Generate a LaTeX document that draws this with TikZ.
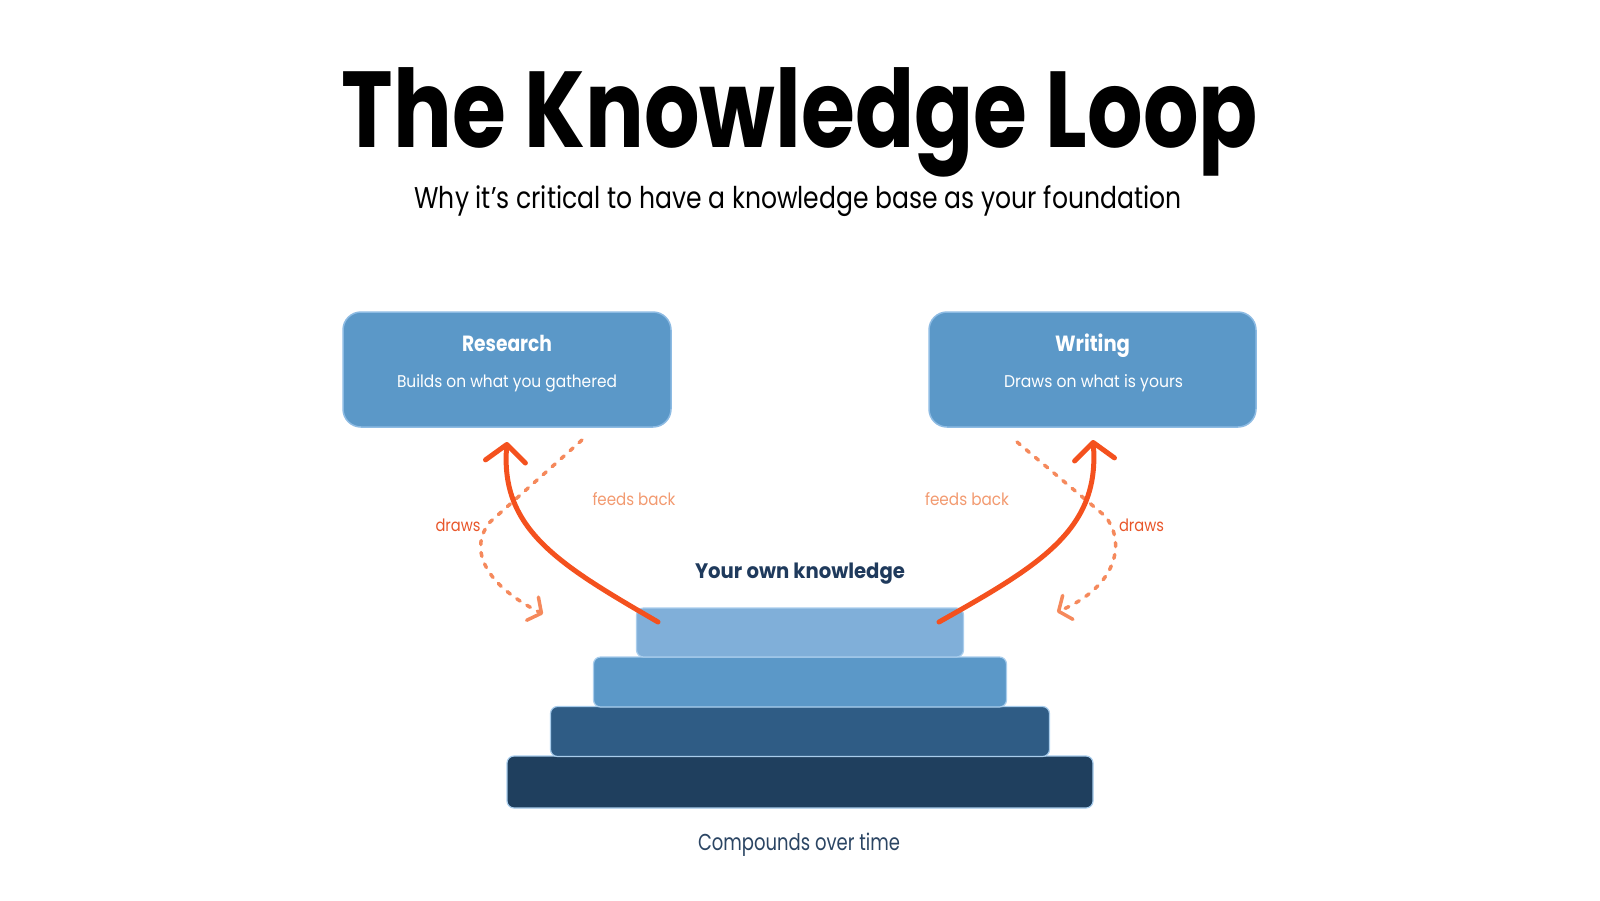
\documentclass[tikz,border=0pt]{standalone}
\usepackage{fontspec}
\setmainfont{Poppins}
\usepackage{graphicx}
\usetikzlibrary{arrows.meta}
\definecolor{boxblue}{HTML}{5B98C8}
\definecolor{boxedge}{HTML}{8DBBE3}
\definecolor{layerA}{HTML}{80AFD9}
\definecolor{layerB}{HTML}{5B98C8}
\definecolor{layerC}{HTML}{2F5C85}
\definecolor{layerD}{HTML}{1F3F5E}
\definecolor{layeredge}{HTML}{A9CDEC}
\definecolor{solidorange}{HTML}{F4511E}
\definecolor{dashorange}{HTML}{F5895C}
\definecolor{drawsorange}{HTML}{E8562A}
\definecolor{feedsorange}{HTML}{F29A70}
\definecolor{navy}{HTML}{1F3A5C}
\definecolor{navysoft}{HTML}{2B4563}
\newcommand{\fitw}[2]{\resizebox{#1}{\height}{#2}}
\tikzset{
  card/.style={draw=boxedge, line width=1.5pt, fill=boxblue, rounded corners=18pt, inner sep=0pt},
  layer/.style={draw=layeredge, line width=1.2pt, rounded corners=7pt, inner sep=0pt},
  txt/.style={inner sep=0pt, anchor=base},
  solidarrow/.style={draw=solidorange, line width=5pt, line cap=round,
    -{Straight Barb[length=17pt, width=40pt, round]}},
  dasharrow/.style={draw=dashorange, line width=3.5pt, line cap=round,
    dash pattern=on 4pt off 8pt,
    -{Straight Barb[length=10pt, width=26pt, round]}}
}
\begin{document}
\begin{tikzpicture}[x=1pt, y=-1pt]
\useasboundingbox (0,0) rectangle (1600,900);
% title
\node[txt] (title) at (800,147) {\fontsize{108}{110}\selectfont\bfseries\fitw{916pt}{The Knowledge Loop}};
\node[txt] (subtitle) at (798,208) {\fontsize{30}{32}\selectfont\fitw{767pt}{Why it’s critical to have a knowledge base as your foundation}};
% cards
\node[card, minimum width=328pt, minimum height=115pt] (research) at (507,369.5) {};
\node[txt, text=white] (researchT) at (507,351) {\fontsize{22}{24}\selectfont\bfseries\fitw{90pt}{Research}};
\node[txt, text=white] (researchS) at (507,387) {\fontsize{17}{19}\selectfont\fitw{220pt}{Builds on what you gathered}};
\node[card, minimum width=327pt, minimum height=115pt] (writing) at (1092.5,369.5) {};
\node[txt, text=white] (writingT) at (1092.5,351) {\fontsize{22}{24}\selectfont\bfseries\fitw{75pt}{Writing}};
\node[txt, text=white] (writingS) at (1093.5,387) {\fontsize{17}{19}\selectfont\fitw{179pt}{Draws on what is yours}};
% layers
\node[layer, fill=layerD, minimum width=586pt, minimum height=52pt] (l4) at (800,782) {};
\node[layer, fill=layerC, minimum width=499pt, minimum height=50pt] (l3) at (800,731.5) {};
\node[layer, fill=layerB, minimum width=413pt, minimum height=50pt] (l2) at (800,682) {};
\node[layer, fill=layerA, minimum width=327pt, minimum height=49pt] (l1) at (800,632.5) {};
\node[txt, text=navy] (yok) at (800,578) {\fontsize{21}{23}\selectfont\bfseries\fitw{210pt}{Your own knowledge}};
\node[txt, text=navysoft] (cot) at (799,850) {\fontsize{23}{25}\selectfont\fitw{202pt}{Compounds over time}};
% labels
\node[txt, text=feedsorange] (fbL) at (634,505) {\fontsize{17}{19}\selectfont\fitw{83pt}{feeds back}};
\node[txt, text=drawsorange] (drL) at (458,531) {\fontsize{17}{19}\selectfont\fitw{45pt}{draws}};
\node[txt, text=feedsorange] (fbR) at (967,505) {\fontsize{17}{19}\selectfont\fitw{84pt}{feeds back}};
\node[txt, text=drawsorange] (drR) at (1141.5,531) {\fontsize{17}{19}\selectfont\fitw{45pt}{draws}};
% anchor coordinates
\coordinate (rsIn) at (507,442);
\coordinate (wrIn) at (1093,440);
\coordinate (l1L) at (658,622);
\coordinate (l1R) at (939,622);
\coordinate (rsOut) at (582,440);
\coordinate (wrOut) at (1017,442);
\coordinate (stackL) at (543,614);
\coordinate (stackR) at (1057,612);
% dashed arrows
\draw[dasharrow] (rsOut) -- (490,522) .. controls (470,546) and (480,582) .. (stackL);
\draw[dasharrow] (wrOut) -- (1105,516) .. controls (1125,540) and (1120,585) .. (stackR);
% solid arrows
\draw[solidarrow] (l1L) .. controls (560,565) and (500,530) .. (rsIn);
\draw[solidarrow] (l1R) .. controls (1040,565) and (1100,530) .. (wrIn);
\end{tikzpicture}
\end{document}
